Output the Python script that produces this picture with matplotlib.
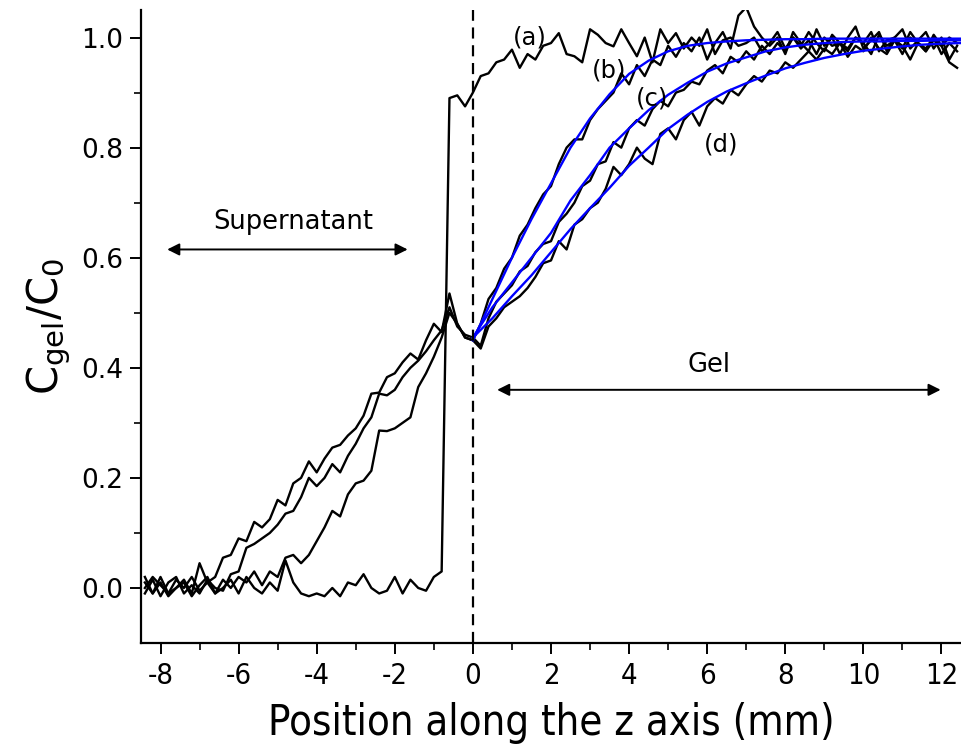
import numpy as np
import matplotlib
matplotlib.use("Agg")
import matplotlib.pyplot as plt

# sampling positions along z (mm), 0.2 mm step
z = np.round(np.arange(-8.4, 12.41, 0.2), 1)

curve_a = [0.01, -0.01, 0.02, -0.01, 0.00, 0.01, -0.015, 0.005, 0.02, -0.01,
           0.00, 0.015, -0.01, 0.02, 0.00, -0.01, 0.01, -0.005, 0.05, 0.01,
           -0.01, -0.015, -0.01, -0.015, 0.00, -0.015, 0.01, 0.005, 0.025, 0.00,
           -0.01, -0.005, 0.02, -0.01, 0.015, 0.00, -0.005, 0.02, 0.03, 0.89,
           0.895, 0.875, 0.90, 0.93, 0.935, 0.955, 0.96, 0.978, 0.945, 0.97,
           0.96, 0.985, 0.99, 1.008, 0.97, 0.966, 0.955, 1.015, 1.005, 0.99,
           0.984, 1.015, 0.99, 0.966, 1.0, 0.955, 1.015, 0.99, 1.008, 0.98,
           1.0, 0.985, 1.015, 0.97, 0.995, 1.0, 0.985, 0.99, 1.0, 0.975,
           0.99, 1.01, 0.98, 1.0, 0.985, 1.01, 0.99, 0.975, 1.005, 0.99,
           0.98, 1.0, 0.99, 1.01, 0.975, 0.995, 1.0, 0.98, 1.01, 0.99,
           0.975, 1.005, 0.985, 1.0, 0.99]
curve_b = [0.02, -0.01, 0.01, -0.015, 0.00, 0.015, -0.01, 0.045, 0.01, 0.02,
           0.055, 0.06, 0.09, 0.085, 0.12, 0.11, 0.125, 0.16, 0.15, 0.19,
           0.20, 0.23, 0.21, 0.235, 0.255, 0.26, 0.277, 0.29, 0.313, 0.353,
           0.355, 0.383, 0.39, 0.41, 0.426, 0.415, 0.45, 0.48, 0.465, 0.535,
           0.48, 0.455, 0.45, 0.48, 0.525, 0.545, 0.58, 0.60, 0.64, 0.66,
           0.69, 0.715, 0.73, 0.77, 0.80, 0.815, 0.815, 0.85, 0.87, 0.885,
           0.90, 0.935, 0.915, 0.95, 0.93, 0.96, 0.95, 0.985, 0.965, 0.99,
           0.975, 1.0, 0.96, 0.99, 1.01, 0.98, 1.04, 1.055, 1.02, 1.0,
           0.985, 1.0, 0.97, 1.01, 0.99, 0.975, 1.015, 0.985, 1.0, 0.97,
           1.0, 1.02, 0.98, 0.995, 1.01, 0.975, 1.0, 1.015, 0.98, 0.995,
           1.01, 0.98, 1.0, 0.96, 0.985]
curve_c = [-0.01, 0.015, -0.015, 0.01, 0.02, -0.01, 0.005, -0.01, 0.015, 0.00,
           -0.005, 0.025, 0.03, 0.073, 0.08, 0.09, 0.10, 0.115, 0.135, 0.14,
           0.165, 0.20, 0.185, 0.20, 0.225, 0.21, 0.24, 0.262, 0.29, 0.31,
           0.353, 0.35, 0.36, 0.383, 0.40, 0.413, 0.43, 0.45, 0.468, 0.51,
           0.475, 0.46, 0.455, 0.44, 0.49, 0.52, 0.535, 0.55, 0.575, 0.585,
           0.61, 0.625, 0.63, 0.665, 0.68, 0.70, 0.73, 0.74, 0.77, 0.775,
           0.81, 0.80, 0.835, 0.85, 0.84, 0.87, 0.885, 0.875, 0.90, 0.905,
           0.92, 0.915, 0.94, 0.95, 0.935, 0.965, 0.955, 0.975, 0.96, 0.985,
           0.97, 0.99, 0.975, 1.0, 0.98, 0.995, 0.97, 1.0, 0.985, 0.99,
           0.975, 1.0, 0.99, 0.97, 1.005, 0.985, 0.995, 0.97, 1.0, 0.99,
           0.98, 1.0, 0.97, 0.99, 0.975]
curve_d = [0.00, 0.02, 0.005, -0.01, 0.015, 0.00, 0.02, -0.005, 0.01, -0.01,
           0.015, 0.00, 0.02, 0.01, 0.03, 0.005, 0.03, 0.02, 0.055, 0.06,
           0.045, 0.06, 0.085, 0.11, 0.14, 0.13, 0.17, 0.19, 0.195, 0.213,
           0.286, 0.285, 0.29, 0.30, 0.31, 0.365, 0.39, 0.42, 0.455, 0.50,
           0.48, 0.455, 0.45, 0.435, 0.475, 0.49, 0.51, 0.52, 0.53, 0.545,
           0.565, 0.59, 0.595, 0.63, 0.615, 0.66, 0.67, 0.69, 0.70, 0.725,
           0.765, 0.75, 0.77, 0.80, 0.78, 0.77, 0.825, 0.835, 0.815, 0.85,
           0.865, 0.84, 0.875, 0.89, 0.88, 0.905, 0.895, 0.915, 0.93, 0.92,
           0.94, 0.935, 0.955, 0.945, 0.96, 0.975, 0.96, 0.98, 0.97, 0.99,
           0.965, 0.985, 0.975, 1.0, 0.98, 0.97, 0.995, 0.985, 0.96, 0.99,
           0.975, 0.995, 0.985, 0.955, 0.945]

# fitted profiles in the gel (blue)
z_fit = [0, 0.5, 1.0, 1.5, 2.0, 2.5, 3.0, 3.5, 4.0, 4.5, 5.0, 5.5, 6.0, 6.5,
         7.0, 7.5, 8.0, 8.5, 9.0, 9.5, 10.0, 10.5, 11.0, 11.5, 12.0, 12.5]
fit_b = [0.45, 0.525, 0.60, 0.67, 0.735, 0.80, 0.853, 0.897, 0.934, 0.958,
         0.975, 0.985, 0.99, 0.993, 0.995, 0.996, 0.997, 0.997, 0.998, 0.998,
         0.998, 0.998, 0.998, 0.998, 0.998, 0.998]
fit_c = [0.455, 0.51, 0.555, 0.60, 0.645, 0.704, 0.75, 0.80, 0.835, 0.868,
         0.896, 0.918, 0.938, 0.953, 0.964, 0.975, 0.982, 0.987, 0.99, 0.992,
         0.993, 0.993, 0.994, 0.994, 0.995, 0.995]
fit_d = [0.455, 0.49, 0.53, 0.568, 0.61, 0.652, 0.69, 0.727, 0.767, 0.80,
         0.834, 0.86, 0.883, 0.902, 0.917, 0.931, 0.944, 0.954, 0.963, 0.97,
         0.976, 0.98, 0.984, 0.987, 0.989, 0.99]

plt.rcParams['font.family'] = ['DejaVu Sans']
plt.rcParams['axes.unicode_minus'] = False
fig = plt.figure(figsize=(9.61, 7.54), dpi=100)
ax = fig.add_axes([0.1467, 0.1472, 0.8533, 0.8395])

for c in [curve_a, curve_b, curve_c, curve_d]:
    ax.plot(z, c, color='black', lw=1.7)
for f in [fit_b, fit_c, fit_d]:
    ax.plot(z_fit, f, color='#0000ff', lw=1.7)

ax.axvline(0, color='black', ls=(0, (5, 3)), lw=1.6)

ax.set_xlim(-8.5, 12.5)
ax.set_ylim(-0.1, 1.05)
ax.set_xticks(np.arange(-8, 13, 2))
ax.set_xticks(np.arange(-7, 13, 2), minor=True)
ax.set_yticks([0.0, 0.2, 0.4, 0.6, 0.8, 1.0])
ax.set_yticks([0.1, 0.3, 0.5, 0.7, 0.9], minor=True)
ax.set_yticklabels(['0.0', '0.2', '0.4', '0.6', '0.8', '1.0'])
for s in ['top', 'right']:
    ax.spines[s].set_visible(False)
for s in ['left', 'bottom']:
    ax.spines[s].set_linewidth(1.6)
ax.tick_params(which='major', direction='out', length=8, width=1.4)
ax.tick_params(which='minor', direction='out', length=5, width=1.2)
ax.tick_params(axis='y', labelsize=19, pad=5)
ax.tick_params(axis='x', labelsize=21, pad=6)
for lab in ax.get_xticklabels():
    lab.set_fontstretch('condensed')

ax.set_xlabel('Position along the z axis (mm)', fontsize=30, fontstretch='condensed', labelpad=8)
ax.set_ylabel(r'C$_{\mathregular{gel}}$/C$_{\mathregular{0}}$', fontsize=30, labelpad=6)

ax.text(1.45, 1.0, '(a)', fontsize=17.5, ha='center', va='center')
ax.text(3.5, 0.94, '(b)', fontsize=17.5, ha='center', va='center')
ax.text(4.6, 0.89, '(c)', fontsize=17.5, ha='center', va='center')
ax.text(6.35, 0.805, '(d)', fontsize=17.5, ha='center', va='center')

ax.text(-4.6, 0.665, 'Supernatant', fontsize=18.5, ha='center', va='center')
ax.annotate('', xy=(-7.9, 0.615), xytext=(-1.6, 0.615),
            arrowprops=dict(arrowstyle='<|-|>', color='black', lw=1.4, mutation_scale=18))
ax.text(6.05, 0.405, 'Gel', fontsize=18.5, ha='center', va='center')
ax.annotate('', xy=(0.55, 0.36), xytext=(12.05, 0.36),
            arrowprops=dict(arrowstyle='<|-|>', color='black', lw=1.4, mutation_scale=18))

fig.savefig('out.png', dpi=100)
